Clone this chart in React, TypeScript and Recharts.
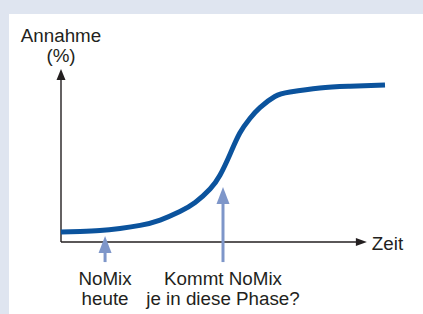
import { Line, LineChart, ReferenceLine, XAxis, YAxis } from 'recharts';

// S-curve: Zeit (0–100) vs. Annahme (0–100)
const zeit = [0, 5.9, 12, 18.2, 24.4, 30.6, 36.7, 41.4, 46, 49.1, 52.2, 55.2, 58.3, 61.4, 66, 70.7, 79.9, 89.2, 100];
const annahme = [5.8, 6.1, 6.6, 7.8, 9.6, 12.7, 17.6, 22.8, 30.6, 38.7, 50.9, 63, 71.4, 77.7, 84.1, 86.7, 89, 90, 90.8];

const markerX = [13.6, 50];
const markerTip = [3.5, 31.8];
const markerFoot = -11.6;
const markerLabels = [
  ['NoMix', 'heute'],
  ['Kommt NoMix', 'je in diese Phase?'],
];

const yAxisLabel = ['Annahme', '(%)'];
const xAxisLabel = 'Zeit';
const xAxisEnd = 94.4;

const data = zeit.map((z, i) => ({ zeit: z, annahme: annahme[i] }));

const FONT = '"Liberation Sans", Arial, Helvetica, sans-serif';
const CURVE = '#0b539d';
const MARKER = '#7e96c9';
const INK = '#231f20';

const textProps = { fontFamily: FONT, fontSize: 18.8, fill: INK, textAnchor: 'middle' as const };

function YArrow(p: any) {
  const { x1, y1, x2, y2 } = p;
  return (
    <g>
      <line x1={x1} y1={y1} x2={x2} y2={y2 + 9} stroke={INK} strokeWidth={1.4} />
      <polygon points={`${x2},${y2} ${x2 - 4.5},${y2 + 11} ${x2 + 4.5},${y2 + 11}`} fill={INK} />
      <text x={x2} y={y2 - 27} {...textProps}>{yAxisLabel[0]}</text>
      <text x={x2} y={y2 - 7} {...textProps}>{yAxisLabel[1]}</text>
    </g>
  );
}

function XArrow(p: any) {
  const { x1, y1, x2, y2 } = p;
  return (
    <g>
      <line x1={x1} y1={y1} x2={x2 - 9} y2={y2} stroke={INK} strokeWidth={1.4} />
      <polygon points={`${x2},${y2} ${x2 - 11},${y2 - 4} ${x2 - 11},${y2 + 4}`} fill={INK} />
      <text x={x2 + 5} y={y2 + 8} {...textProps} textAnchor="start">{xAxisLabel}</text>
    </g>
  );
}

function markerShape(lines: string[]) {
  return (p: any) => {
    const { x1, y1, y2 } = p;
    const tipY = Math.min(y1, y2);
    const footY = Math.max(y1, y2);
    const x = x1;
    return (
      <g>
        <line x1={x} y1={footY} x2={x} y2={tipY + 14} stroke={MARKER} strokeWidth={3} />
        <polygon points={`${x},${tipY} ${x - 6.5},${tipY + 17} ${x + 6.5},${tipY + 17}`} fill={MARKER} />
        <text x={x} y={footY + 23} {...textProps}>{lines[0]}</text>
        <text x={x} y={footY + 43} {...textProps}>{lines[1]}</text>
      </g>
    );
  };
}

export default function App() {
  return (
    <div style={{ position: 'fixed', left: 0, top: 0, width: 423, height: 314, background: '#dfe5f0' }}>
      <div style={{ position: 'absolute', left: 9, top: 14, right: 0, bottom: 0, background: '#fff' }} />
      <div style={{ position: 'absolute', left: 0, top: 0 }}>
        <LineChart width={423} height={314} data={data} margin={{ top: 69, right: 38, bottom: 72, left: 61 }}>
          <XAxis dataKey="zeit" type="number" domain={[0, 100]} hide />
          <YAxis type="number" domain={[0, 100]} hide />
          <ReferenceLine
            segment={[{ x: 0, y: 0 }, { x: 0, y: 100 }]}
            ifOverflow="visible"
            shape={YArrow}
          />
          <ReferenceLine
            segment={[{ x: 0, y: 0 }, { x: xAxisEnd, y: 0 }]}
            ifOverflow="visible"
            shape={XArrow}
          />
          {markerX.map((mx, i) => (
            <ReferenceLine
              key={mx}
              segment={[{ x: mx, y: markerFoot }, { x: mx, y: markerTip[i] }]}
              ifOverflow="visible"
              shape={markerShape(markerLabels[i])}
            />
          ))}
          <Line
            type="natural"
            dataKey="annahme"
            stroke={CURVE}
            strokeWidth={5}
            dot={false}
            activeDot={false}
            isAnimationActive={false}
          />
        </LineChart>
      </div>
    </div>
  );
}
